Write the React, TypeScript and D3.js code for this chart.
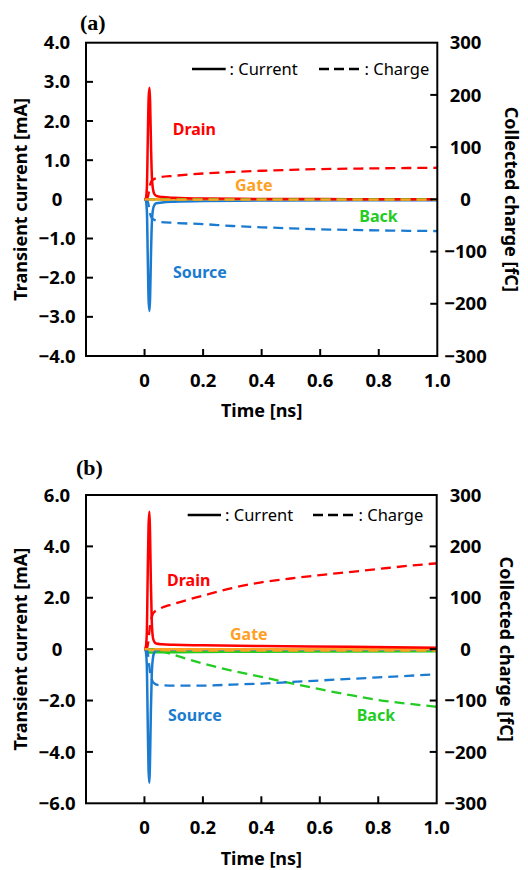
import React from 'react';
import * as d3 from 'd3';

// ---------- shared axis data ----------
const timeTicks = [0, 0.2, 0.4, 0.6, 0.8, 1.0];
const timeTickLabels = ['0', '0.2', '0.4', '0.6', '0.8', '1.0'];
const chargeTicks = [-300, -200, -100, 0, 100, 200, 300];
const chargeTickLabels = ['−300', '−200', '−100', '0', '100', '200', '300'];
const currentTicksA = [-4, -3, -2, -1, 0, 1, 2, 3, 4];
const currentTickLabelsA = ['−4.0', '−3.0', '−2.0', '−1.0', '0', '1.0', '2.0', '3.0', '4.0'];
const currentTicksB = [-6, -4, -2, 0, 2, 4, 6];
const currentTickLabelsB = ['−6.0', '−4.0', '−2.0', '0', '2.0', '4.0', '6.0'];

const seriesNames = ['Drain', 'Gate', 'Back', 'Source'];
const seriesColors = ['#ff0000', '#ffa024', '#22cc22', '#1b7bd0'];

// ---------- time grids ----------
const tCur = [0, 0.004, 0.008, 0.011, 0.014, 0.017, 0.019, 0.022, 0.025, 0.029, 0.034, 0.04, 0.06, 0.1, 0.2, 0.4, 0.7, 1.0];
const tChg = [0, 0.008, 0.012, 0.016, 0.02, 0.025, 0.03, 0.05, 0.1, 0.2, 0.3, 0.4, 0.5, 0.6, 0.7, 0.8, 0.9, 1.0];

// ---------- panel (a) ----------
const drainCurA = [0, 0.02, 0.3, 1.5, 2.6, 2.85, 2.5, 1.4, 0.6, 0.25, 0.13, 0.09, 0.06, 0.04, 0.02, 0.01, 0.005, 0.0];
const gateCurA = [0, 0, 0, 0, 0, 0, 0, 0, 0, 0, 0, 0, 0, 0, 0, 0, 0, 0];
const backCurA = [0, 0, 0, 0, 0, 0, 0, 0, 0, 0, 0, 0, 0, 0, 0, 0, 0, 0];
const sourceCurA = [0, -0.02, -0.3, -1.5, -2.6, -2.85, -2.5, -1.4, -0.6, -0.25, -0.14, -0.1, -0.08, -0.06, -0.04, -0.03, -0.02, -0.02];

const drainChgA = [0, 1, 6, 18, 30, 36, 38, 42, 45, 49.5, 52.5, 54.8, 56.5, 58, 58.8, 59.4, 60, 60.5];
const gateChgA = [0, 0, 0, -0.5, -0.5, -0.5, -0.5, -0.5, -0.5, -0.5, -0.5, -0.5, -0.5, -0.5, -0.5, -0.5, -0.5, -0.5];
const backChgA = [0, 0, 0, 0, 0, 0, 0, 0, 0, 0, 0, 0, 0, 0, 0, 0, 0, 0];
const sourceChgA = [0, -1, -6, -18, -30, -36, -38, -43, -45, -47.5, -51, -53.5, -55.5, -57.5, -58.5, -59.5, -60.2, -60.7];

// ---------- panel (b) ----------
const drainCurB = [0, 0.05, 0.6, 2.8, 4.8, 5.35, 4.6, 2.6, 1.1, 0.45, 0.28, 0.22, 0.19, 0.17, 0.15, 0.12, 0.09, 0.05];
const gateCurB = [0, 0, 0, 0, 0, 0, 0, 0, 0, 0, 0, 0, 0, 0, 0, 0, 0, 0];
const backCurB = [0, 0, -0.03, -0.08, -0.12, -0.13, -0.13, -0.13, -0.13, -0.13, -0.12, -0.12, -0.12, -0.12, -0.11, -0.1, -0.09, -0.08];
const sourceCurB = [0, -0.05, -0.6, -2.7, -4.7, -5.2, -4.4, -2.4, -1.0, -0.35, -0.12, -0.04, -0.02, -0.02, -0.02, -0.02, -0.02, -0.02];

const drainChgB = [0, 1, 10, 30, 50, 62, 70, 78, 88, 104, 119, 130, 137.5, 144, 150, 156, 162, 167];
const gateChgB = [0, 0, 0, -1, -1, -1.5, -2, -2, -2.5, -3, -3, -3, -3, -3, -3, -3, -3, -3];
const backChgB = [0, 0, 0, 0, 0, -0.5, -1, -3, -11, -28, -42, -54, -66, -78, -89, -99, -106, -112];
const sourceChgB = [0, -1, -10, -30, -48, -58, -65, -70, -71, -71, -69, -67, -64, -61, -58, -55, -52, -49];

// ---------- layout (positions only) ----------
const panels = [
  {
    id: 'a', title: '(a)', titleX: 80, titleY: 29.5,
    left: 86, right: 437.3, top: 42.7, bottom: 356, yMax: 4,
    leftTicks: currentTicksA, leftLabels: currentTickLabelsA,
    cur: [drainCurA, gateCurA, backCurA, sourceCurA],
    chg: [drainChgA, gateChgA, backChgA, sourceChgA],
    labelPos: [[172.7, 129.3], [235, 185], [359.3, 216.7], [173, 272.7]],
    legendY: 69, legSolid: [192, 225.7], legSolidText: 229.5, legDash: [319, 359], legDashText: 364.5,
    leftTitleX: 21.7, rightTitleX: 510.8,
  },
  {
    id: 'b', title: '(b)', titleX: 76, titleY: 474.5,
    left: 86, right: 436.7, top: 495, bottom: 803.3, yMax: 6,
    leftTicks: currentTicksB, leftLabels: currentTickLabelsB,
    cur: [drainCurB, gateCurB, backCurB, sourceCurB],
    chg: [drainChgB, gateChgB, backChgB, sourceChgB],
    labelPos: [[167, 580], [230, 634], [356.7, 715.7], [168, 715.7]],
    legendY: 515, legSolid: [187.7, 221], legSolidText: 225, legDash: [313, 353], legDashText: 358.5,
    leftTitleX: 22, rightTitleX: 505,
  },
];

const SANS = "'Noto Sans', 'DejaVu Sans', sans-serif";
const TICK_FS = 18.5;
const TITLE_FS = 18;
const LABEL_FS = 16;
const LEG_FS = 16.5;
const TICK_LEN = 7;

function Panel({ cfg }: { cfg: any }) {
  const x = d3.scaleLinear().domain([-0.2, 1.0]).range([cfg.left, cfg.right]);
  const yL = d3.scaleLinear().domain([-cfg.yMax, cfg.yMax]).range([cfg.bottom, cfg.top]);
  const yR = d3.scaleLinear().domain([-300, 300]).range([cfg.bottom, cfg.top]);

  const lineCur = d3.line<number>()
    .x((_, i) => x(tCur[i]))
    .y((d) => yL(d))
    .curve(d3.curveMonotoneX);
  const lineChg = d3.line<number>()
    .x((_, i) => x(tChg[i]))
    .y((d) => yR(d))
    .curve(d3.curveMonotoneX);

  const curOrder = [2, 3, 1, 0];
  const chgOrder = [2, 3, 0, 1];

  const innerLeft = cfg.leftTicks.filter((v: number) => Math.abs(v) < cfg.yMax);
  const innerRight = chargeTicks.filter((v) => Math.abs(v) < 300);
  const midY = (cfg.top + cfg.bottom) / 2;

  return (
    <g>
      <text x={cfg.titleX} y={cfg.titleY} fontFamily="'Liberation Serif', 'Times New Roman', serif"
        fontWeight="bold" fontSize={22} fill="#000">{cfg.title}</text>

      {curOrder.map((k) => (
        <path key={'c' + k} d={lineCur(cfg.cur[k]) || ''} fill="none" stroke={seriesColors[k]}
          strokeWidth={2.5} strokeLinejoin="round" />
      ))}
      {chgOrder.map((k) => (
        <path key={'q' + k} d={lineChg(cfg.chg[k]) || ''} fill="none" stroke={seriesColors[k]}
          strokeWidth={2.3} strokeDasharray="10 6" />
      ))}

      {seriesNames.map((n, k) => (
        <text key={n} x={cfg.labelPos[k][0]} y={cfg.labelPos[k][1] + 0.357 * LABEL_FS}
          fontFamily={SANS} fontWeight="bold" fontSize={LABEL_FS} fill={seriesColors[k]}>{n}</text>
      ))}

      <line x1={cfg.legSolid[0]} x2={cfg.legSolid[1]} y1={cfg.legendY} y2={cfg.legendY} stroke="#000" strokeWidth={2.5} />
      <text x={cfg.legSolidText} y={cfg.legendY + 0.357 * LEG_FS} fontFamily={SANS} fontSize={LEG_FS} fill="#000">: Current</text>
      <line x1={cfg.legDash[0]} x2={cfg.legDash[1]} y1={cfg.legendY} y2={cfg.legendY} stroke="#000" strokeWidth={2.5} strokeDasharray="10 5" />
      <text x={cfg.legDashText} y={cfg.legendY + 0.357 * LEG_FS} fontFamily={SANS} fontSize={LEG_FS} fill="#000">: Charge</text>

      {innerLeft.map((v: number) => (
        <line key={'lt' + v} x1={cfg.left} x2={cfg.left + TICK_LEN} y1={yL(v)} y2={yL(v)} stroke="#000" strokeWidth={2} />
      ))}
      {innerRight.map((v) => (
        <line key={'rt' + v} x1={cfg.right} x2={cfg.right - TICK_LEN} y1={yR(v)} y2={yR(v)} stroke="#000" strokeWidth={2} />
      ))}
      {timeTicks.filter((v) => v < 1).map((v) => (
        <line key={'bt' + v} x1={x(v)} x2={x(v)} y1={cfg.bottom} y2={cfg.bottom - TICK_LEN} stroke="#000" strokeWidth={2} />
      ))}

      <rect x={cfg.left} y={cfg.top} width={cfg.right - cfg.left} height={cfg.bottom - cfg.top}
        fill="none" stroke="#000" strokeWidth={2} />

      {cfg.leftTicks.map((v: number, i: number) => (
        <text key={'ll' + v} x={57} y={yL(v) + 0.357 * TICK_FS} textAnchor="middle"
          fontFamily={SANS} fontWeight="bold" fontSize={TICK_FS} fill="#000">{cfg.leftLabels[i]}</text>
      ))}
      {chargeTicks.map((v, i) => (
        <text key={'rl' + v} x={465.5} y={yR(v) + 0.357 * TICK_FS} textAnchor="middle"
          fontFamily={SANS} fontWeight="bold" fontSize={TICK_FS} fill="#000">{chargeTickLabels[i]}</text>
      ))}
      {timeTicks.map((v, i) => (
        <text key={'xl' + v} x={x(v)} y={cfg.bottom + 24 + 0.357 * TICK_FS} textAnchor="middle"
          fontFamily={SANS} fontWeight="bold" fontSize={TICK_FS} fill="#000">{timeTickLabels[i]}</text>
      ))}

      <text x={x(0.4)} y={cfg.bottom + 55 + 0.357 * TITLE_FS} textAnchor="middle"
        fontFamily={SANS} fontWeight="bold" fontSize={TITLE_FS} fill="#000">Time [ns]</text>
      <g transform={`translate(${cfg.leftTitleX},${midY}) rotate(-90)`}>
        <text x={0} y={0.3 * TITLE_FS} textAnchor="middle" fontFamily={SANS} fontWeight="bold"
          fontSize={TITLE_FS} fill="#000">Transient current [mA]</text>
      </g>
      <g transform={`translate(${cfg.rightTitleX},${midY}) rotate(90)`}>
        <text x={0} y={0.3 * TITLE_FS} textAnchor="middle" fontFamily={SANS} fontWeight="bold"
          fontSize={TITLE_FS} fill="#000">Collected charge [fC]</text>
      </g>
    </g>
  );
}

export default function App() {
  return (
    <svg width={528} height={870} style={{ position: 'absolute', left: 0, top: 0, background: '#fff' }}>
      <rect x={0} y={0} width={528} height={870} fill="#fff" />
      {panels.map((p) => (
        <Panel key={p.id} cfg={p} />
      ))}
    </svg>
  );
}
